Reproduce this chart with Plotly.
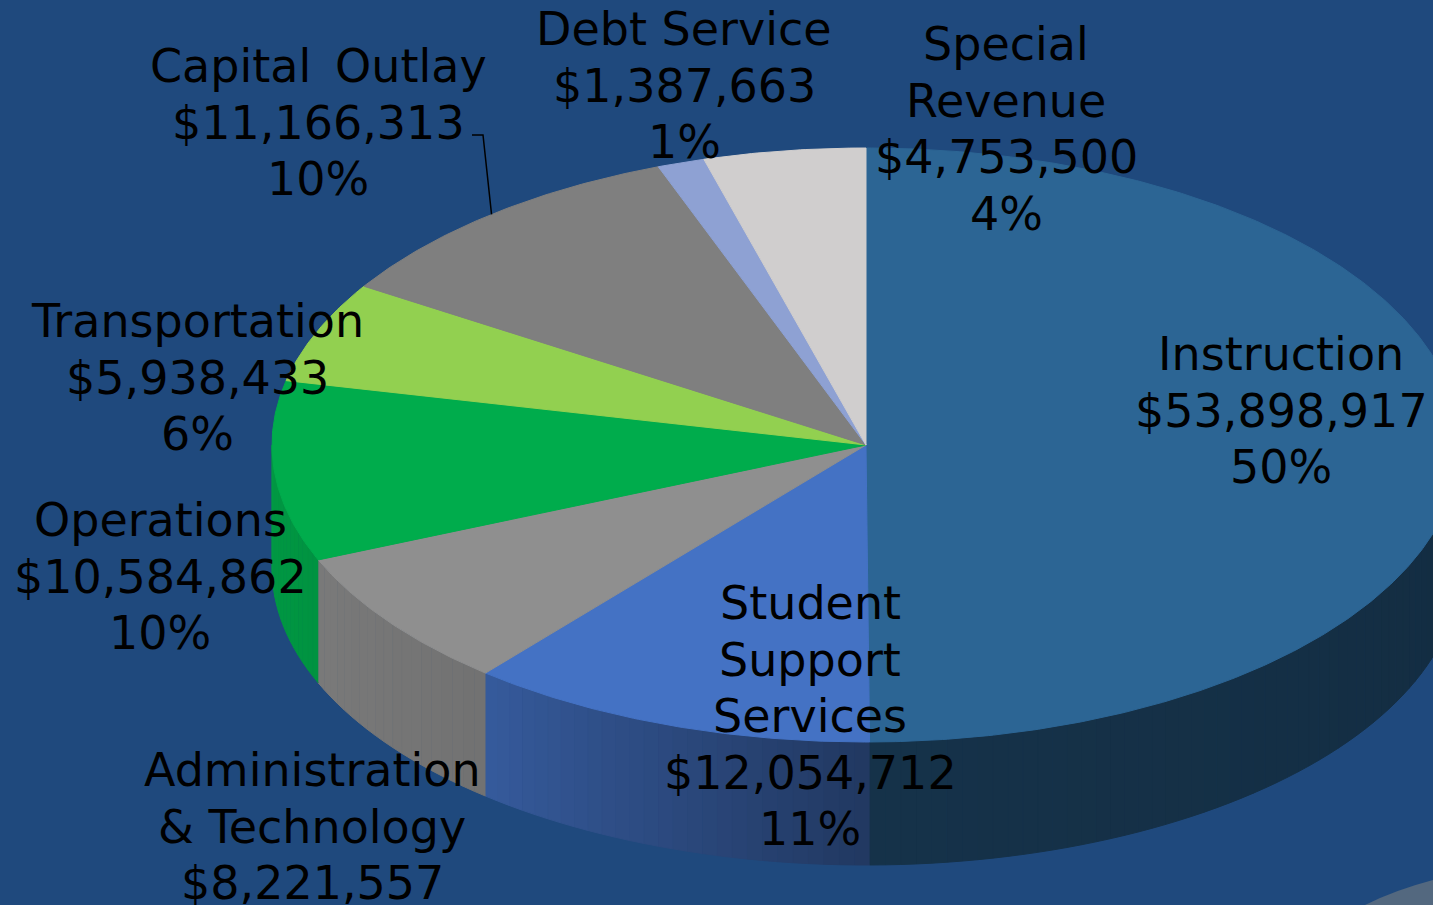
import numpy as np
import plotly.graph_objects as go

# ---------------- data ----------------
categories = ["Instruction", "Student Support Services", "Administration & Technology",
              "Operations", "Transportation", "Capital Outlay", "Debt Service", "Special Revenue"]
values = [53898917, 12054712, 8221557, 10584862, 5938433, 11166313, 1387663, 4753500]
pct_labels = ["50%", "11%", "8%", "10%", "6%", "10%", "1%", "4%"]
name_lines = [["Instruction"], ["Student", "Support", "Services"], ["Administration", "& Technology"],
              ["Operations"], ["Transportation"], ["Capital \u2009Outlay"], ["Debt Service"],
              ["Special", "Revenue"]]

# ---------------- style ----------------
top_colors = ["#2C6594", "#4472C4", "#8F8F8F", "#00AC4C", "#92D050", "#7F7F7F", "#8EA1D3", "#D0CECE"]
BG = "#1F497D"
CX, CY, RX, RY, DEPTH = 866, 445, 594, 297, 123
FONT = "DejaVu Sans"
FS = 46
LINE_H = 56.5
label_x = [1281, 810, 312, 160, 197, 318, 684, 1006]
label_y0 = [354, 603, 770, 520, 321, 66, 29, 44]
W, H = 1433, 905


def hex_rgb(h):
    h = h.lstrip("#")
    return tuple(int(h[i:i + 2], 16) for i in (0, 2, 4))


def shade(h, f):
    r, g, b = hex_rgb(h)
    return "rgb(%d,%d,%d)" % (min(255, r * f), min(255, g * f), min(255, b * f))


def pt(phi_deg, dy=0.0):
    p = np.radians(phi_deg)
    return CX + RX * np.sin(p), CY - RY * np.cos(p) + dy


total = float(sum(values))
spans = [360.0 * v / total for v in values]
starts = np.concatenate([[0.0], np.cumsum(spans)[:-1]])

fig = go.Figure()

# side walls (front half only, phi in [90, 270]) drawn as shaded strips
for i, (s, w) in enumerate(zip(starts, spans)):
    a, b = max(s, 90.0), min(s + w, 270.0)
    if b <= a:
        continue
    n = max(1, int(np.ceil((b - a) / 1.5)))
    edges = np.linspace(a, b, n + 1)
    for k in range(n):
        p1, p2 = edges[k], edges[k + 1]
        pm = 0.5 * (p1 + p2)
        f = np.interp(pm, [90, 180, 220, 270], [0.44, 0.5, 0.8, 0.9])
        col = shade(top_colors[i], f)
        arc = np.linspace(p1, p2, 4)
        xs_t, ys_t = pt(arc)
        xs_b, ys_b = pt(arc[::-1], DEPTH)
        xs = np.concatenate([xs_t, xs_b])
        ys = np.concatenate([ys_t, ys_b])
        fig.add_trace(go.Scatter(x=xs, y=ys, mode="lines", fill="toself", fillcolor=col,
                                 line=dict(color=col, width=1), hoverinfo="skip", showlegend=False))

# top faces
for i, (s, w) in enumerate(zip(starts, spans)):
    arc = np.linspace(s, s + w, max(8, int(w * 2)))
    xs, ys = pt(arc)
    xs = np.concatenate([[CX], xs, [CX]])
    ys = np.concatenate([[CY], ys, [CY]])
    fig.add_trace(go.Scatter(x=xs, y=ys, mode="lines", fill="toself", fillcolor=top_colors[i],
                             line=dict(color=top_colors[i], width=1), hoverinfo="skip",
                             name=categories[i], showlegend=False))

# leader line for Capital Outlay
ci = categories.index("Capital Outlay")
ex, ey = pt(starts[ci] + spans[ci] / 2)
fig.add_trace(go.Scatter(x=[472, 483, ex], y=[135, 135, ey], mode="lines",
                         line=dict(color="black", width=1.5), hoverinfo="skip", showlegend=False))

# labels (only lines that fall inside the canvas, as in the reference)
for i in range(len(categories)):
    lines = name_lines[i] + ["${:,}".format(values[i]), pct_labels[i]]
    for j, t in enumerate(lines):
        yy = label_y0[i] + j * LINE_H
        if yy > H:
            continue
        fig.add_annotation(x=label_x[i], y=yy, text=t, showarrow=False,
                           xanchor="center", yanchor="middle",
                           font=dict(family=FONT, size=FS, color="black"))

fig.update_layout(
    width=W, height=H, margin=dict(l=0, r=0, t=0, b=0),
    paper_bgcolor=BG, plot_bgcolor=BG,
    xaxis=dict(range=[0, W], visible=False, showgrid=False, zeroline=False, fixedrange=True),
    yaxis=dict(range=[H, 0], visible=False, showgrid=False, zeroline=False, fixedrange=True),
    shapes=[dict(type="path", path="M 1365,905 Q 1395,890 1433,880 L 1433,905 Z",
                 fillcolor="#53687F", line=dict(width=0), layer="above")],
)

fig.write_html("out.html", config={"displayModeBar": False},
               post_script="document.body.style.margin='0';document.body.style.overflow='hidden';"
                           "document.body.style.background='%s';" % BG)
